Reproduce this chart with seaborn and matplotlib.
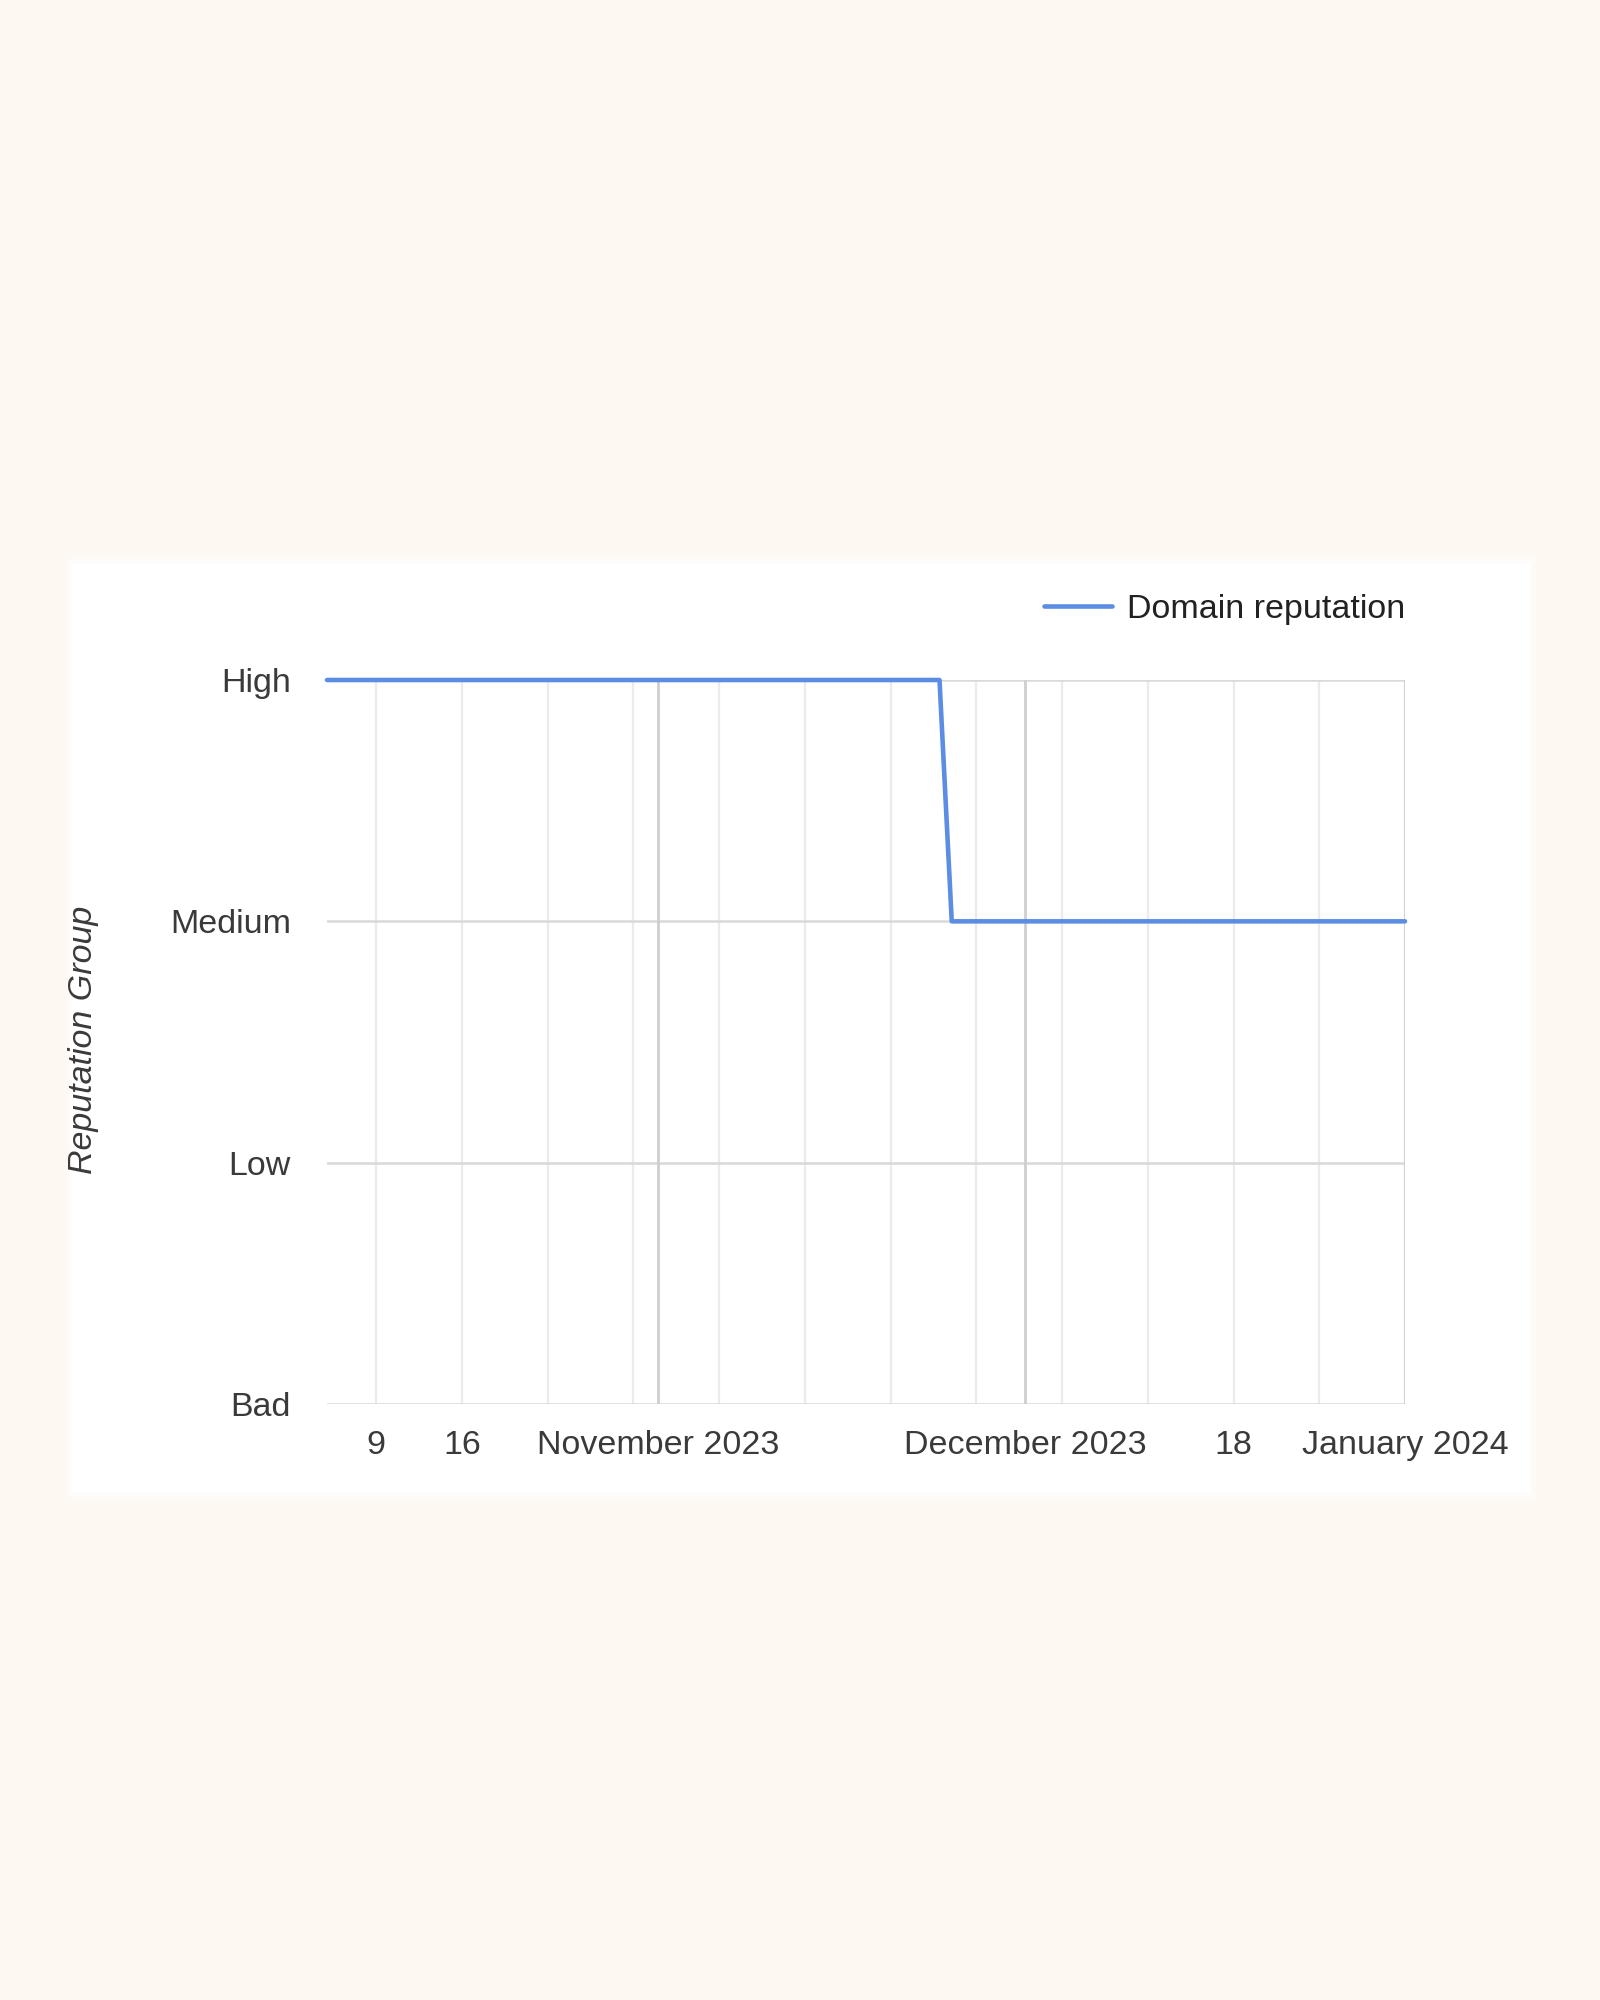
import matplotlib.pyplot as plt
import matplotlib.patches as mpatches
import pandas as pd
import seaborn as sns

# data (points where the level changes)
dates = ['2023-10-05', '2023-11-24', '2023-11-25', '2024-01-01']
levels = ['High', 'High', 'Medium', 'Medium']
level_names = ['Bad', 'Low', 'Medium', 'High']
tick_dates = ['2023-10-09', '2023-10-16', '2023-11-01', '2023-12-01', '2023-12-18', '2024-01-01']
tick_labels = ['9', '16', 'November 2023', 'December 2023', '18', 'January 2024']

df = pd.DataFrame({'date': pd.to_datetime(dates), 'level': levels})
df['value'] = df['level'].map({n: i for i, n in enumerate(level_names)})

sns.set_style('white')
plt.rcParams['font.family'] = ['Liberation Sans', 'DejaVu Sans']

bg = '#fdf8f1'
txt = '#3a3a3a'
fs = 24.5
fig = plt.figure(figsize=(16, 20), dpi=100, facecolor=bg)

# white card with a soft edge (kept behind the axes)
for i, a in enumerate([0.3, 0.6, 1.0]):
    pad = (2 - i) * 0.002
    fig.patches.append(mpatches.Rectangle(
        (72 / 1600 - pad, 1 - 1492 / 2000 - pad),
        (1530 - 72) / 1600 + 2 * pad, (1492 - 564) / 2000 + 2 * pad,
        transform=fig.transFigure, facecolor='white', alpha=a,
        edgecolor='none', zorder=-5))

ax = fig.add_axes([327 / 1600, 1 - 1404 / 2000, (1405 - 327) / 1600, (1404 - 680) / 2000])
ax.set_facecolor('none')
ax.set_zorder(2)

x0, x1 = pd.Timestamp(dates[0]), pd.Timestamp(dates[-1])

# gridlines: weekly (light), month starts (darker), level lines
for d in pd.date_range('2023-10-09', '2024-01-01', freq='7D'):
    ax.axvline(d, color='#ebebeb', lw=1.6, zorder=1)
for d in pd.date_range('2023-11-01', '2024-01-01', freq='MS'):
    ax.axvline(d, color='#cfcfcf', lw=2.0, zorder=1.5)
for v in range(len(level_names)):
    ax.axhline(v, color='#d9d9d9', lw=1.8, zorder=1.2)

sns.lineplot(data=df, x='date', y='value', ax=ax, color='#5b8de4', lw=3.3,
             label='Domain reputation', zorder=3, clip_on=False)

ax.set_xlim(x0, x1)
ax.set_ylim(0, 3)
for s in ax.spines.values():
    s.set_visible(False)

ax.set_yticks(range(len(level_names)))
ax.set_yticklabels(level_names)
ax.set_xticks(pd.to_datetime(tick_dates))
ax.set_xticklabels(tick_labels)
ax.tick_params(axis='y', length=0, pad=26, labelsize=fs, labelcolor=txt)
ax.tick_params(axis='x', length=0, pad=19, labelsize=fs, labelcolor=txt)
ax.set_xlabel('')
ax.set_ylabel('')

fig.text(84 / 1600, 1 - 1040 / 2000, 'Reputation Group', rotation=90, ha='center',
         va='center', fontsize=fs, style='italic', color=txt)

ax.legend(loc='center right', bbox_to_anchor=(1.0, 1.098), frameon=False,
          borderpad=0, borderaxespad=0, handlelength=2.0, handletextpad=0.42,
          fontsize=fs, labelcolor='#222222')

fig.savefig('out.png', dpi=100, facecolor=bg)
